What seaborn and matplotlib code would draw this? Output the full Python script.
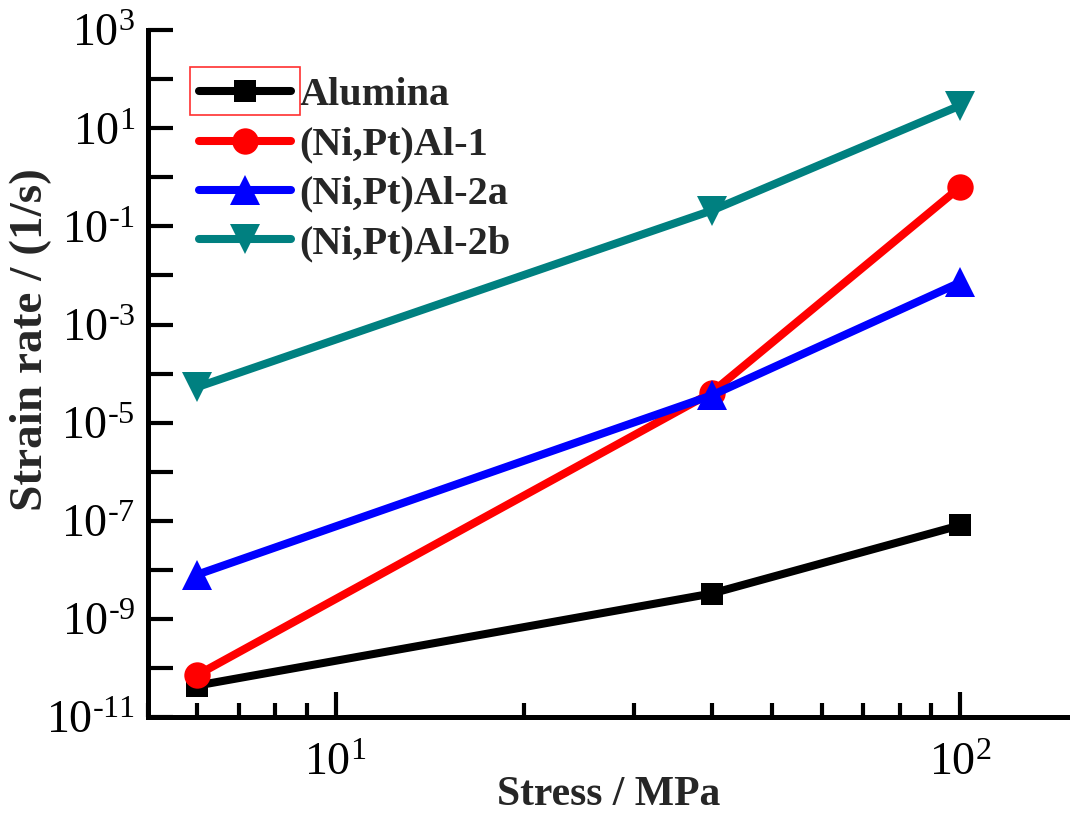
import matplotlib
matplotlib.use("Agg")
import matplotlib.pyplot as plt
import matplotlib.ticker as mticker
from matplotlib.patches import Rectangle
import seaborn as sns
import pandas as pd
import numpy as np

# ---- data ----
stress = [6, 40, 100]
alumina = [4.4e-11, 3.3e-9, 8.1e-8]
nipt_1 = [7.2e-11, 4.1e-5, 0.63]
nipt_2a = [8.0e-9, 3.6e-5, 7.2e-3]
nipt_2b = [5.3e-5, 0.21, 29]
series_names = ["Alumina", "(Ni,Pt)Al-1", "(Ni,Pt)Al-2a", "(Ni,Pt)Al-2b"]
series_values = [alumina, nipt_1, nipt_2a, nipt_2b]
colors = ["#000000", "#FF0000", "#0000FF", "#008080"]
markers = ["s", "o", "^", "v"]
msizes = [16.5, 19, 21, 21]
x_label = "Stress / MPa"
y_label = "Strain rate / (1/s)"
y_major_exps = list(range(-11, 4))

sns.set_theme(style="white")
plt.rcParams["font.family"] = ["Liberation Serif", "DejaVu Serif"]
plt.rcParams["mathtext.fontset"] = "custom"
plt.rcParams["mathtext.rm"] = "Liberation Serif"
plt.rcParams["mathtext.it"] = "Liberation Serif:italic"
plt.rcParams["mathtext.bf"] = "Liberation Serif:bold"

df = pd.DataFrame({
    "stress": np.tile(stress, len(series_names)),
    "rate": np.concatenate(series_values),
    "series": np.repeat(series_names, len(stress)),
})

fig = plt.figure(figsize=(10.70, 8.14), dpi=100)
ax = fig.add_axes([0.138, 0.119, 0.862, 0.844])

for name, c, m, ms in zip(series_names, colors, markers, msizes):
    sub = df[df["series"] == name]
    sns.lineplot(data=sub, x="stress", y="rate", ax=ax, color=c, marker=m,
                 markersize=ms, markeredgecolor=c, markeredgewidth=0,
                 linewidth=5.8, label=name, sort=False, estimator=None)

ax.set_xscale("log")
ax.set_yscale("log")
ax.set_xlim(5, 150)
ax.set_ylim(1e-11, 1e3)

# spines
for s in ["top", "right"]:
    ax.spines[s].set_visible(False)
for s in ["left", "bottom"]:
    ax.spines[s].set_linewidth(3.6)
    ax.spines[s].set_color("black")


def sup(e):
    es = str(e).replace("-", "{\\text{-}}")
    return r"$\mathregular{10^{%s}}$" % es


# x ticks
ax.xaxis.set_major_locator(mticker.FixedLocator([10, 100]))
ax.xaxis.set_major_formatter(mticker.FixedFormatter([sup(1), sup(2)]))
ax.xaxis.set_minor_locator(mticker.LogLocator(base=10, subs=np.arange(2, 10)))
ax.xaxis.set_minor_formatter(mticker.NullFormatter())

# y ticks
yt = [10.0 ** e for e in y_major_exps]
ylabs = [sup(e) if (e % 2 != 0) else "" for e in y_major_exps]
ax.yaxis.set_major_locator(mticker.FixedLocator(yt))
ax.yaxis.set_major_formatter(mticker.FixedFormatter(ylabs))
ax.yaxis.set_minor_locator(mticker.LogLocator(base=10, subs=[4, 7]))
ax.yaxis.set_minor_formatter(mticker.NullFormatter())

ax.tick_params(axis="both", which="both", bottom=True, left=True, top=False, right=False)
ax.tick_params(axis="both", which="major", direction="in", length=18, width=3,
               labelsize=33, color="black", labelcolor="black")
ax.tick_params(axis="both", which="minor", direction="in", length=10, width=3,
               color="black")
ax.tick_params(axis="x", which="major", pad=18)
ax.tick_params(axis="y", which="major", pad=9)

ax.set_xlabel(x_label, fontsize=30, fontweight="bold")
ax.xaxis.set_label_coords(0.5, -0.113)
ax.xaxis.label.set_va("center")
ax.set_ylabel(y_label, fontsize=34, fontweight="bold")
ax.yaxis.set_label_coords(-0.127, 0.55)
ax.yaxis.label.set_va("center")
ax.grid(False)
ax.set_facecolor("white")

leg = ax.legend(loc="upper left", frameon=False,
                prop={"weight": "bold", "size": 29},
                handlelength=2.3, handletextpad=0.2, labelspacing=0.3,
                borderaxespad=0.0, bbox_to_anchor=(0.038, 0.955))

fig.canvas.draw()
r = fig.canvas.get_renderer()
h0 = leg.get_lines()[0]
bb = h0.get_window_extent(r)
cy = (bb.y0 + bb.y1) / 2
rect = Rectangle((bb.x0 + 3, cy - 24), bb.width - 6, 48, transform=None,
                 fill=False, edgecolor="#FF3030", linewidth=1.2)
fig.patches.append(rect)

fig.savefig("out.png", dpi=100, facecolor="white")
